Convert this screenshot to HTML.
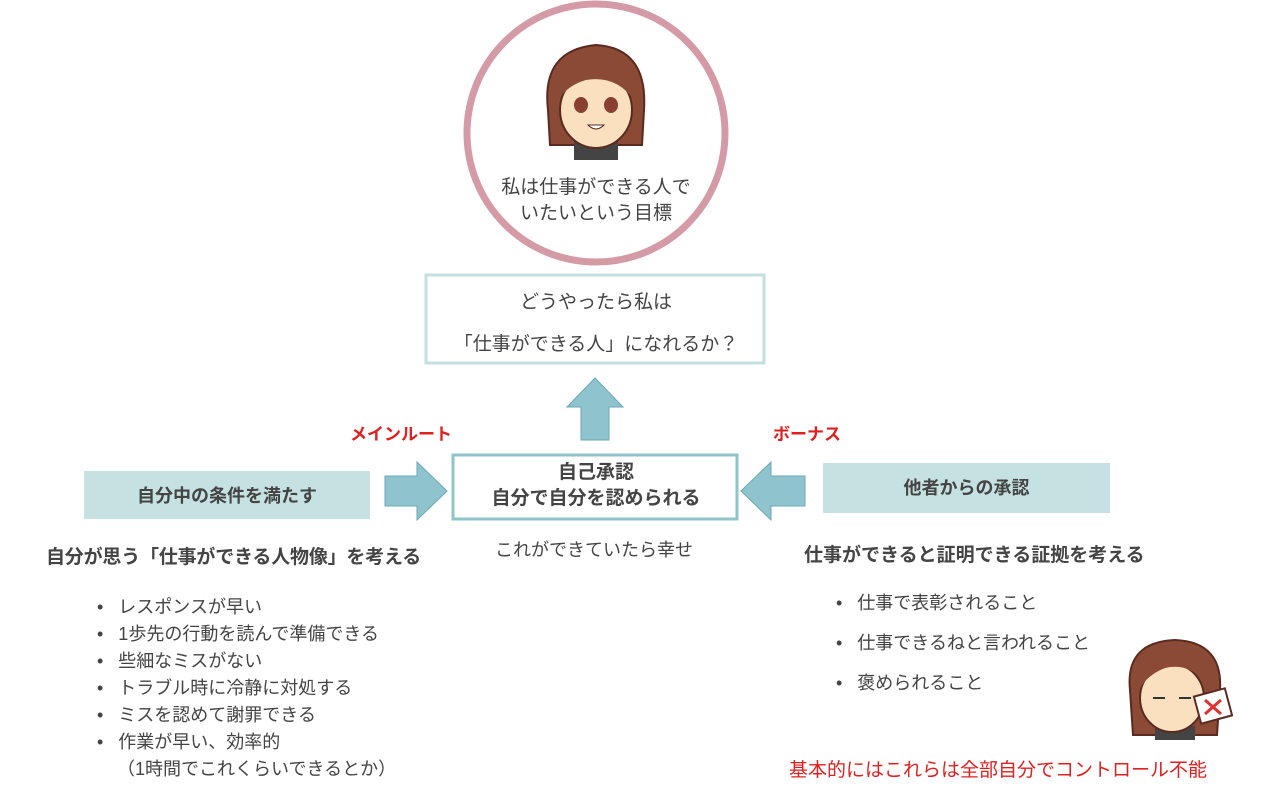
<!DOCTYPE html>
<html><head><meta charset="utf-8"><style>
body{margin:0;width:1280px;height:794px;background:#fff;position:relative;overflow:hidden;font-family:"Liberation Sans","Noto Sans CJK JP",sans-serif;color:#444}
.a{position:absolute;white-space:nowrap}
.b{font-weight:bold}
</style></head><body>
<svg class="a" style="left:0;top:0" width="1280" height="794">
<circle cx="596" cy="133" r="129" fill="#fff" stroke="#d49aa5" stroke-width="7"/>
<g transform="translate(596,100)">
<path d="M-48,10 Q-55,-50 0,-55 Q52,-52 48,10 L46,45 L-46,45 Z" fill="#8a4a35" stroke="#5a2a20" stroke-width="2"/>
<rect x="-22" y="38" width="44" height="22" fill="#444"/>
<ellipse cx="0" cy="10" rx="36" ry="38" fill="#fbe0c0" stroke="#5a2a20" stroke-width="2"/>
<path d="M-38,0 Q-30,-40 10,-38 Q40,-30 38,0 Q20,-25 -10,-20 Q-28,-15 -38,0Z" fill="#8a4a35"/>
<ellipse cx="-15" cy="5" rx="7" ry="8" fill="#8a4030"/><ellipse cx="15" cy="5" rx="7" ry="8" fill="#8a4030"/>
<path d="M-8,25 Q0,33 8,25 Z" fill="#fff" stroke="#5a2a20"/>
</g>
<rect x="426" y="275" width="338" height="88" fill="#fff" stroke="#c3dfe0" stroke-width="3"/>
<rect x="453" y="455" width="284" height="64" fill="#fff" stroke="#8fc4ca" stroke-width="3"/>
<rect x="84" y="471" width="286" height="48" fill="#c6e1e1"/>
<rect x="823" y="463" width="287" height="50" fill="#c6e1e1"/>
<polygon points="595,378 623,407 609,407 609,440 581,440 581,407 567,407" fill="#8fc4cf" stroke="#6aa8b5"/>
<polygon points="447,491 417,520 417,506 385,506 385,476 417,476 417,462" fill="#8fc4cf" stroke="#6aa8b5"/>
<polygon points="741,491 771,462 771,476 805,476 805,506 771,506 771,520" fill="#8fc4cf" stroke="#6aa8b5"/>
<g transform="translate(1175,690)">
<path d="M-45,0 Q-50,-48 0,-50 Q48,-48 45,0 L42,45 L-42,45Z" fill="#8a4a35" stroke="#5a2a20" stroke-width="2"/>
<rect x="-20" y="36" width="40" height="14" fill="#444"/>
<ellipse cx="-3" cy="8" rx="32" ry="34" fill="#fbe0c0" stroke="#5a2a20" stroke-width="2"/>
<path d="M-36,0 Q-30,-40 10,-38 Q38,-30 32,-5 Q15,-28 -10,-22 Q-28,-15 -36,0Z" fill="#8a4a35"/>
<line x1="-22" y1="8" x2="-10" y2="8" stroke="#333" stroke-width="2"/><line x1="4" y1="8" x2="16" y2="8" stroke="#333" stroke-width="2"/>
<rect x="22" y="2" width="32" height="28" fill="#fff" stroke="#5a2a20" stroke-width="2" transform="rotate(-15 38 16)"/>
<path d="M30,10 L46,24 M46,10 L30,24" stroke="#e03030" stroke-width="3"/>
</g>
</svg>
<div class="a" style="left:496px;top:175px;width:200px;text-align:center;font-size:19px;line-height:26px">私は仕事ができる人で<br>いたいという目標</div>
<div class="a" style="left:426px;top:282px;width:340px;text-align:center;font-size:19px;line-height:42px">どうやったら私は<br>「仕事ができる人」になれるか？</div>
<div class="a b" style="left:350px;top:420px;font-size:17px;color:#e02020">メインルート</div>
<div class="a b" style="left:773px;top:420px;font-size:17px;color:#e02020">ボーナス</div>
<div class="a b" style="left:453px;top:460px;width:286px;text-align:center;font-size:19px;line-height:26px">自己承認<br>自分で自分を認められる</div>
<div class="a b" style="left:84px;top:482px;width:286px;text-align:center;font-size:18px">自分中の条件を満たす</div>
<div class="a b" style="left:823px;top:474px;width:287px;text-align:center;font-size:18px">他者からの承認</div>
<div class="a" style="left:495px;top:536px;font-size:18px">これができていたら幸せ</div>
<div class="a b" style="left:46px;top:542px;font-size:19px;letter-spacing:-0.2px">自分が思う「仕事ができる人物像」を考える</div>
<div class="a b" style="left:804px;top:540px;font-size:19px">仕事ができると証明できる証拠を考える</div>
<div class="a" style="left:97px;top:594px;font-size:18px;line-height:27px">•&nbsp;&nbsp;&nbsp;レスポンスが早い<br>•&nbsp;&nbsp;&nbsp;1歩先の行動を読んで準備できる<br>•&nbsp;&nbsp;&nbsp;些細なミスがない<br>•&nbsp;&nbsp;&nbsp;トラブル時に冷静に対処する<br>•&nbsp;&nbsp;&nbsp;ミスを認めて謝罪できる<br>•&nbsp;&nbsp;&nbsp;作業が早い、効率的<br>&nbsp;&nbsp;&nbsp;&nbsp;（1時間でこれくらいできるとか）</div>
<div class="a" style="left:836px;top:583px;font-size:18px;line-height:40px">•&nbsp;&nbsp;&nbsp;仕事で表彰されること<br>•&nbsp;&nbsp;&nbsp;仕事できるねと言われること<br>•&nbsp;&nbsp;&nbsp;褒められること</div>
<div class="a" style="left:789px;top:755px;font-size:19px;color:#e02020">基本的にはこれらは全部自分でコントロール不能</div>
</body></html>
